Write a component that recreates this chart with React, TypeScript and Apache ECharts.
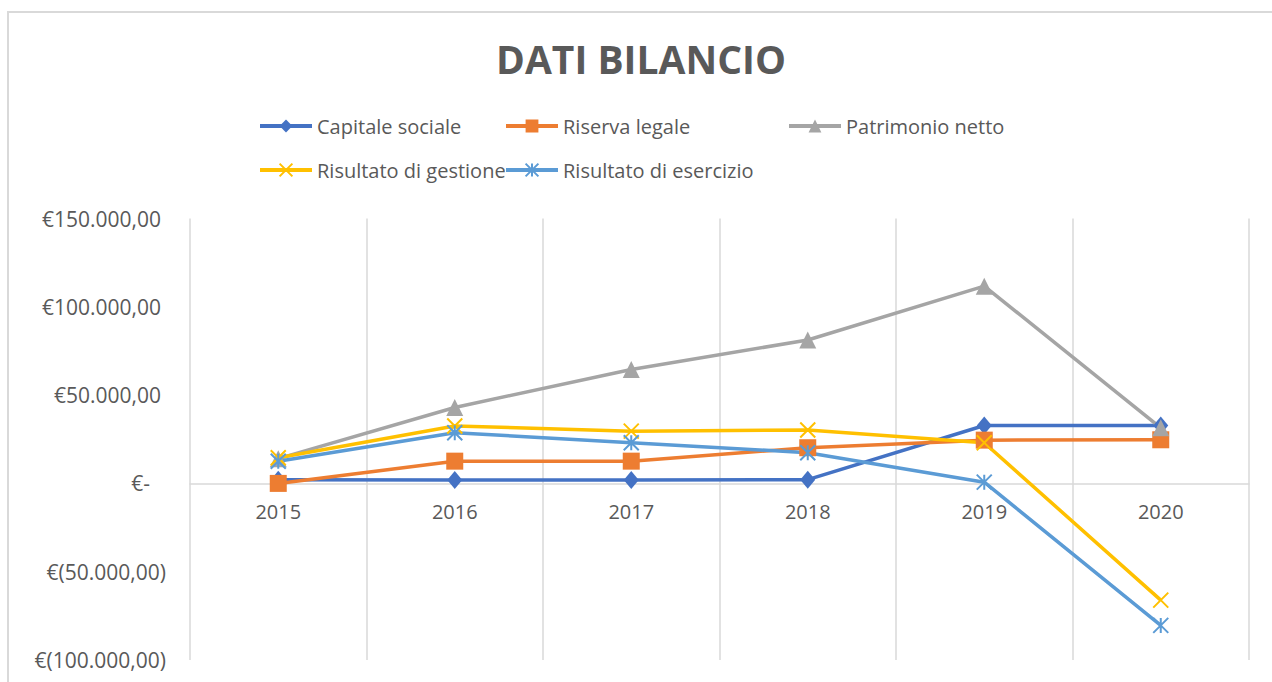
import React, { useEffect, useRef } from 'react';
import * as echarts from 'echarts';

const years = ['2015', '2016', '2017', '2018', '2019', '2020'];
const capitaleSociale = [2000, 1900, 1900, 2100, 32800, 32800];
const riservaLegale = [0, 12600, 12600, 20200, 24500, 24700];
const patrimonioNetto = [14000, 43000, 64500, 81200, 111700, 31500];
const risultatoGestione = [14500, 32500, 29600, 30200, 23000, -66100];
const risultatoEsercizio = [12500, 28700, 23000, 17400, 700, -80400];
const yMin = -100000;
const yMax = 150000;
const yStep = 50000;

const TXT = '#595959';
const FONT = 'Open Sans';

const GRID_TOP = 218.5;
const GRID_BOTTOM = 22;
const PLOT_H = 682 - GRID_TOP - GRID_BOTTOM;
const ZERO_FROM_BOTTOM = (PLOT_H * (0 - yMin)) / (yMax - yMin);

const fmt = (v: number) =>
  String(Math.round(v)).replace(/\B(?=(\d{3})+(?!\d))/g, '.') + ',00';

const X_SYMBOL = 'path://M0,0L10,10M10,0L0,10';
const STAR_SYMBOL = 'path://M5,0L5,10M0,0L10,10M10,0L0,10';

export default function App() {
  const ref = useRef<HTMLDivElement>(null);
  useEffect(() => {
    if (!ref.current) return;
    const chart = echarts.init(ref.current, undefined, { renderer: 'svg' });
    const mk = (
      name: string,
      data: number[],
      color: string,
      symbol: string,
      size: number | number[],
      stroke: boolean
    ) => ({
      name,
      type: 'line',
      data,
      symbol,
      symbolSize: size,
      lineStyle: { color, width: 3.5 },
      itemStyle: stroke
        ? { color, borderColor: color, borderWidth: 2 }
        : { color, borderWidth: 0 },
    });
    const legendItem = (name: string, left: number, top: number) => ({
      data: [name],
      left,
      top,
      itemWidth: 52,
      itemHeight: 16,
      lineStyle: { width: 4 },
      textStyle: { fontSize: 20, color: TXT, fontFamily: FONT },
    });
    chart.setOption({
      animation: false,
      backgroundColor: '#ffffff',
      graphic: [
        {
          type: 'rect',
          shape: { x: 8, y: 12, width: 1400, height: 800 },
          style: { fill: 'none', stroke: '#d9d9d9', lineWidth: 2 },
          silent: true,
        },
        {
          type: 'text',
          x: 641,
          y: 58,
          style: {
            text: 'DATI BILANCIO',
            fontSize: 39,
            fontWeight: 'bold',
            fontFamily: FONT,
            fill: TXT,
            align: 'center',
            verticalAlign: 'middle',
          },
        },
      ],
      legend: [
        legendItem('Capitale sociale', 253, 111),
        legendItem('Riserva legale', 499, 111),
        legendItem('Patrimonio netto', 782, 111),
        legendItem('Risultato di gestione', 253, 155),
        legendItem('Risultato di esercizio', 499, 155),
      ],
      grid: {
        left: 190,
        right: 23,
        top: GRID_TOP,
        bottom: GRID_BOTTOM,
        containLabel: false,
        outerBoundsMode: 'none',
      },
      xAxis: {
        type: 'category',
        data: years,
        boundaryGap: true,
        position: 'bottom',
        offset: -ZERO_FROM_BOTTOM,
        axisLine: { onZero: false, lineStyle: { color: '#d9d9d9', width: 1.5 } },
        axisTick: { show: false },
        splitLine: { show: true, lineStyle: { color: '#d9d9d9', width: 1.5 } },
        axisLabel: { fontSize: 20, color: TXT, fontFamily: FONT, margin: 18 },
      },
      yAxis: {
        type: 'value',
        min: yMin,
        max: yMax,
        interval: yStep,
        axisLine: { show: false },
        axisTick: { show: false },
        splitLine: { show: false },
        axisLabel: {
          margin: 24,
          fontSize: 21,
          color: TXT,
          fontFamily: FONT,
          formatter: (v: number) =>
            v === 0
              ? '{z|€-}'
              : v < 0
              ? '{n|€(' + fmt(-v) + ')}'
              : '{p|€' + fmt(v) + '}',
          rich: {
            p: { padding: [0, 5, 0, 0], fontSize: 21, color: TXT, fontFamily: FONT },
            n: { fontSize: 21, color: TXT, fontFamily: FONT },
            z: { padding: [0, 16, 0, 0], fontSize: 21, color: TXT, fontFamily: FONT },
          },
        },
      },
      series: [
        mk('Capitale sociale', capitaleSociale, '#4472C4', 'diamond', [15, 18], false),
        mk('Riserva legale', riservaLegale, '#ED7D31', 'rect', 17, false),
        mk('Patrimonio netto', patrimonioNetto, '#A5A5A5', 'triangle', 17, false),
        mk('Risultato di gestione', risultatoGestione, '#FFC000', X_SYMBOL, 15, true),
        mk('Risultato di esercizio', risultatoEsercizio, '#5B9BD5', STAR_SYMBOL, 15, true),
      ],
    });
    return () => chart.dispose();
  }, []);
  return (
    <div
      ref={ref}
      style={{ position: 'absolute', left: 0, top: 0, width: 1272, height: 682 }}
    />
  );
}
